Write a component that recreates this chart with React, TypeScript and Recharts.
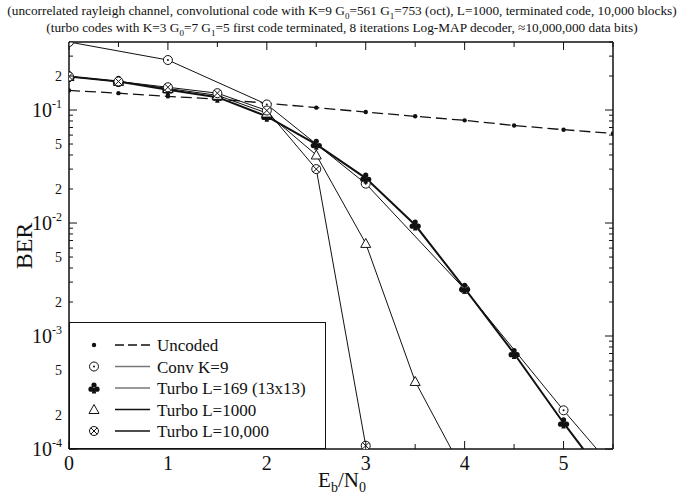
import { Legend, Line, LineChart, XAxis, YAxis } from "recharts";

// BER vs Eb/N0 (log y axis)
const EBN0 = [0, 0.5, 1, 1.5, 2, 2.5, 3, 3.5, 4, 4.5, 5, 5.5];
const UNCODED = [0.149, 0.141, 0.132, 0.125, 0.115, 0.105, 0.096, 0.088, 0.081, 0.073, 0.067, 0.062];
const CONV_K9 = [0.4, null, 0.277, null, 0.112, null, 0.0223, null, 0.0026, null, 0.00022, 0.000068];
const TURBO_169 = [0.198, 0.179, 0.151, 0.13, 0.088, 0.0497, 0.025, 0.0096, 0.00264, 0.0007, 0.00017, 0.000045];
const TURBO_1000 = [0.198, 0.179, 0.155, 0.135, 0.094, 0.04, 0.0066, 0.000396, 0.00006, null, null, null];
const TURBO_10000 = [0.198, 0.179, 0.159, 0.141, 0.099, 0.03, 0.000107, null, null, null, null, null];

const X_TICKS = [0, 0.5, 1, 1.5, 2, 2.5, 3, 3.5, 4, 4.5, 5, 5.5];
const Y_DECADES = [1e-4, 1e-3, 1e-2, 1e-1];
const Y_MANTISSAS = [1, 2, 3, 4, 5, 6, 7, 8, 9];
const Y_LABELED_MANTISSAS = [1, 2, 5];
const Y_MIN = 1e-4;
const Y_MAX = 0.4;
const Y_TICKS = Y_DECADES.flatMap((d) => Y_MANTISSAS.map((m) => m * d)).filter((v) => v <= Y_MAX * 1.0001);

const FONT = '"Liberation Serif", "DejaVu Serif", serif';
const INK = "#111";

type MarkerKind = "dot" | "odot" | "club" | "triangle" | "otimes";

interface SeriesDef {
  key: string;
  name: string;
  values: (number | null)[];
  marker: MarkerKind;
  width: number;
  dash?: string;
  legendColor: string;
  legendDash?: string;
}

const SERIES: SeriesDef[] = [
  { key: "uncoded", name: "Uncoded", values: UNCODED, marker: "dot", width: 1.3, dash: "11 5", legendColor: INK, legendDash: "9 4" },
  { key: "conv", name: "Conv K=9", values: CONV_K9, marker: "odot", width: 1, legendColor: "#777" },
  { key: "t169", name: "Turbo L=169 (13x13)", values: TURBO_169, marker: "club", width: 2, legendColor: "#777" },
  { key: "t1000", name: "Turbo L=1000", values: TURBO_1000, marker: "triangle", width: 1, legendColor: INK },
  { key: "t10000", name: "Turbo L=10,000", values: TURBO_10000, marker: "otimes", width: 1, legendColor: INK },
];

const chartData = EBN0.map((x, i) => {
  const row: Record<string, number | null> = { x };
  SERIES.forEach((s) => {
    row[s.key] = s.values[i];
  });
  return row;
});

function Marker({ kind, x, y }: { kind: MarkerKind; x: number; y: number }) {
  switch (kind) {
    case "dot":
      return <circle cx={x} cy={y} r={2.2} fill={INK} />;
    case "odot":
      return (
        <g>
          <circle cx={x} cy={y} r={4.5} fill="#fff" stroke={INK} strokeWidth={1} />
          <circle cx={x} cy={y} r={1} fill={INK} />
        </g>
      );
    case "club":
      return (
        <g fill={INK}>
          <circle cx={x} cy={y - 3} r={2.6} />
          <circle cx={x - 3} cy={y + 1.2} r={2.6} />
          <circle cx={x + 3} cy={y + 1.2} r={2.6} />
          <path d={`M${x - 0.8},${y} L${x + 0.8},${y} L${x + 2.2},${y + 5.5} L${x - 2.2},${y + 5.5} Z`} />
        </g>
      );
    case "triangle":
      return (
        <path
          d={`M${x},${y - 5} L${x + 5},${y + 4} L${x - 5},${y + 4} Z`}
          fill="#fff"
          stroke={INK}
          strokeWidth={1}
        />
      );
    case "otimes":
      return (
        <g stroke={INK} strokeWidth={1}>
          <circle cx={x} cy={y} r={4.5} fill="#fff" />
          <line x1={x - 3.2} y1={y - 3.2} x2={x + 3.2} y2={y + 3.2} />
          <line x1={x - 3.2} y1={y + 3.2} x2={x + 3.2} y2={y - 3.2} />
        </g>
      );
  }
}

const renderDot = (kind: MarkerKind) => (props: any) => {
  const { cx, cy, index, value } = props;
  if (cx == null || cy == null || value == null) {
    return <g key={`${kind}-${index}`} />;
  }
  return (
    <g key={`${kind}-${index}`}>
      <Marker kind={kind} x={cx} y={cy} />
    </g>
  );
};

function splitLog(v: number) {
  const exp = Math.floor(Math.log10(v) + 1e-9);
  const mant = Math.round(v / Math.pow(10, exp));
  return { exp, mant };
}

function YTickLeft(props: any) {
  const { x, y, payload } = props;
  const { exp, mant } = splitLog(payload.value);
  const len = mant === 1 ? 8 : 4;
  let label = null;
  if (mant === 1) {
    label = (
      <text x={x - 7} y={y + 7} textAnchor="end" fontFamily={FONT} fontSize={20} fill={INK}>
        10
        <tspan dy={-9} fontSize={12}>
          {exp}
        </tspan>
      </text>
    );
  } else if (Y_LABELED_MANTISSAS.includes(mant)) {
    label = (
      <text x={x - 7} y={y + 5} textAnchor="end" fontFamily={FONT} fontSize={14} fill={INK}>
        {mant}
      </text>
    );
  }
  return (
    <g>
      <line x1={x} y1={y} x2={x + len} y2={y} stroke={INK} strokeWidth={1} />
      {label}
    </g>
  );
}

function YTickRight(props: any) {
  const { x, y, payload } = props;
  const { mant } = splitLog(payload.value);
  const len = mant === 1 ? 8 : 4;
  return <line x1={x} y1={y} x2={x - len} y2={y} stroke={INK} strokeWidth={1} />;
}

function XTickBottom(props: any) {
  const { x, y, payload } = props;
  const major = Number.isInteger(payload.value);
  return (
    <g>
      <line x1={x} y1={y} x2={x} y2={y - (major ? 8 : 5)} stroke={INK} strokeWidth={1} />
      {major && (
        <text x={x} y={y + 21} textAnchor="middle" fontFamily={FONT} fontSize={20} fill={INK}>
          {payload.value}
        </text>
      )}
    </g>
  );
}

function XTickTop(props: any) {
  const { x, y, payload } = props;
  const major = Number.isInteger(payload.value);
  return <line x1={x} y1={y} x2={x} y2={y + (major ? 8 : 5)} stroke={INK} strokeWidth={1} />;
}

function LegendBox() {
  const rowH = 21.5;
  return (
    <div
      style={{
        width: 257,
        height: 127,
        boxSizing: "border-box",
        border: `1.5px solid ${INK}`,
        background: "#fff",
      }}
    >
      <svg width={254} height={124}>
        {SERIES.map((s, i) => {
          const cy = 22 + i * rowH;
          return (
            <g key={s.key}>
              <Marker kind={s.marker} x={24} y={cy} />
              <line
                x1={45}
                x2={80}
                y1={cy}
                y2={cy}
                stroke={s.legendColor}
                strokeWidth={1.3}
                strokeDasharray={s.legendDash}
              />
              <text x={87} y={cy + 6} fontFamily={FONT} fontSize={17} fill={INK}>
                {s.name}
              </text>
            </g>
          );
        })}
      </svg>
    </div>
  );
}

export default function App() {
  return (
    <div style={{ position: "absolute", left: 0, top: 0, width: 684, height: 498, background: "#fff", fontFamily: FONT, color: INK }}>
      <div style={{ position: "absolute", left: 0, width: 684, top: 3, textAlign: "center", fontSize: 13.3, lineHeight: "16px", whiteSpace: "nowrap" }}>
        (uncorrelated rayleigh channel, convolutional code with K=9 G<sub style={{ fontSize: 9 }}>0</sub>=561 G
        <sub style={{ fontSize: 9 }}>1</sub>=753 (oct), L=1000, terminated code, 10,000 blocks)
      </div>
      <div style={{ position: "absolute", left: 0, width: 684, top: 20, textAlign: "center", fontSize: 13.3, lineHeight: "16px", whiteSpace: "nowrap" }}>
        (turbo codes with K=3 G<sub style={{ fontSize: 9 }}>0</sub>=7 G<sub style={{ fontSize: 9 }}>1</sub>=5 first code terminated, 8
        iterations Log-MAP decoder, ≈10,000,000 data bits)
      </div>

      <LineChart width={684} height={498} data={chartData} margin={{ top: 41, right: 70, bottom: 48, left: 68 }}>
        <XAxis
          dataKey="x"
          type="number"
          domain={[0, 5.5]}
          ticks={X_TICKS}
          interval={0}
          allowDataOverflow
          height={1}
          tickSize={0}
          tickMargin={0}
          tickLine={false}
          axisLine={{ stroke: INK, strokeWidth: 1.5 }}
          tick={<XTickBottom />}
        />
        <XAxis
          xAxisId="top"
          orientation="top"
          dataKey="x"
          type="number"
          domain={[0, 5.5]}
          ticks={X_TICKS}
          interval={0}
          allowDataOverflow
          height={1}
          tickSize={0}
          tickMargin={0}
          tickLine={false}
          axisLine={{ stroke: INK, strokeWidth: 1.5 }}
          tick={<XTickTop />}
        />
        <YAxis
          type="number"
          scale="log"
          domain={[Y_MIN, Y_MAX]}
          ticks={Y_TICKS}
          interval={0}
          allowDataOverflow
          width={1}
          tickSize={0}
          tickMargin={0}
          tickLine={false}
          axisLine={{ stroke: INK, strokeWidth: 1.5 }}
          tick={<YTickLeft />}
        />
        <YAxis
          yAxisId="right"
          orientation="right"
          type="number"
          scale="log"
          domain={[Y_MIN, Y_MAX]}
          ticks={Y_TICKS}
          interval={0}
          allowDataOverflow
          width={1}
          tickSize={0}
          tickMargin={0}
          tickLine={false}
          axisLine={{ stroke: INK, strokeWidth: 1.5 }}
          tick={<YTickRight />}
        />
        {SERIES.map((s) => (
          <Line
            key={s.key}
            dataKey={s.key}
            name={s.name}
            type="linear"
            stroke={INK}
            strokeWidth={s.width}
            strokeDasharray={s.dash}
            connectNulls
            dot={renderDot(s.marker)}
            activeDot={false}
            isAnimationActive={false}
          />
        ))}
        <Legend
          layout="vertical"
          align="center"
          verticalAlign="middle"
          wrapperStyle={{ left: 69, top: 322, width: 257, height: 127 }}
          content={<LegendBox />}
        />
      </LineChart>

      <div
        style={{
          position: "absolute",
          left: 24,
          top: 246,
          transform: "translate(-50%, -50%) rotate(-90deg)",
          fontSize: 24,
          lineHeight: "24px",
        }}
      >
        BER
      </div>
      <div style={{ position: "absolute", left: 342, top: 468, transform: "translateX(-50%)", fontSize: 21, lineHeight: "24px", whiteSpace: "nowrap" }}>
        E<sub style={{ fontSize: 14 }}>b</sub>/N<sub style={{ fontSize: 14 }}>0</sub>
      </div>
    </div>
  );
}
